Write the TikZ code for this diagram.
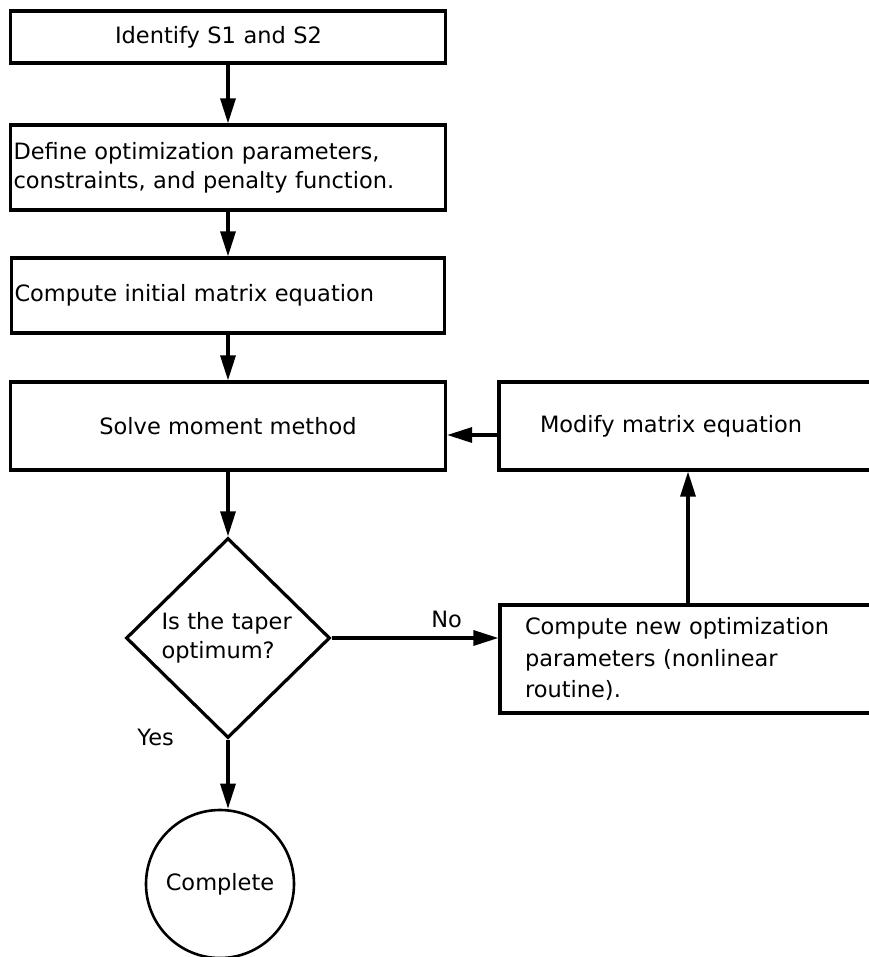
\documentclass[tikz,border=0pt]{standalone}
\usepackage{fontspec}
\setmainfont{DejaVu Sans}
\usetikzlibrary{arrows.meta,shapes.geometric}

\tikzset{
    box/.style={draw, rectangle, line width=3.2pt, inner sep=0pt, font=\fontsize{22.5}{29}\selectfont},
    flow/.style={line width=3.2pt, -{Triangle[length=25pt,width=15pt]}},
    lbl/.style={inner sep=0pt, font=\fontsize{22.5}{29}\selectfont},
}

\begin{document}
\begin{tikzpicture}[x=1pt, y=-1pt]
    \useasboundingbox (0,0) rectangle (868,957);

    % main column
    \node[box, minimum width=435pt, minimum height=52pt, text width=226pt, align=left] (ident) at (228,37)
        {Identify S1 and S2};
    \node[box, minimum width=435pt, minimum height=85pt, text width=429pt, align=left] (define) at (228,167.5)
        {Define optimization parameters,\\constraints, and penalty function.};
    \node[box, minimum width=433pt, minimum height=75pt, text width=427pt, align=left] (initial) at (228,295.5)
        {Compute initial matrix equation};
    \node[box, minimum width=435pt, minimum height=88pt] (solve) at (228,426) {Solve moment method};

    % decision
    \node[box, diamond, minimum width=204pt, minimum height=200pt, text width=133pt, align=left] (test) at (228,638)
        {Is the taper\\optimum?};
    \node[box, circle, line width=2.6pt, minimum size=148pt] (done) at (220,884) {Complete};

    % loop on the right
    \node[box, minimum width=378pt, minimum height=88pt, text width=296pt, align=left] (modify) at (688,426)
        {Modify matrix equation};
    \node[box, minimum width=376pt, minimum height=108pt, text width=326pt, align=left,
          font=\fontsize{22.5}{31.5}\selectfont] (newpar) at (688,659)
        {Compute new optimization\\parameters (nonlinear\\routine).};

    % connectors
    \draw[flow] (ident) -- (define);
    \draw[flow] (define) -- (initial);
    \draw[flow] (initial) -- (solve);
    \draw[flow] (solve) -- (test);
    \draw[flow] (test.east) -- (test.east -| newpar.west) node[lbl, pos=0.69, above=9pt] (no) {No};
    \draw[flow] (newpar) -- (modify);
    \draw[flow] ([yshift=-9pt]modify.west) -- ([yshift=-9pt]solve.east);
    \draw[flow] (test.south) -- (test.south |- done.north);
    \node[lbl, anchor=east] (yes) at (174,737) {Yes};
\end{tikzpicture}
\end{document}
